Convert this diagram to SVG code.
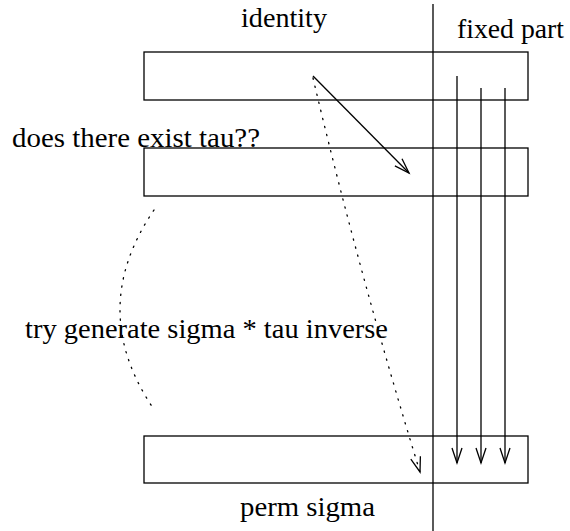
<svg xmlns="http://www.w3.org/2000/svg" width="570" height="531" viewBox="0 0 570 531">
<style>
text{font-family:"Liberation Serif","Times New Roman",serif;font-size:27px;fill:#000}
.box{fill:none;stroke:#000;stroke-width:1.3}
.ln{fill:none;stroke:#000;stroke-width:1.3}
.dot{fill:none;stroke:#000;stroke-width:1.3;stroke-dasharray:1.3 7;stroke-linecap:round}
</style>
<defs>
<marker id="ah" viewBox="0 0 20 12" refX="17" refY="6" markerWidth="20" markerHeight="12" markerUnits="userSpaceOnUse" orient="auto">
<path d="M2,1 L17,6 L2,11" fill="none" stroke="#000" stroke-width="1.3"/>
</marker>
</defs>
<g id="identity-row"><rect class="box" x="144" y="52" width="384" height="48"/><text x="241" y="27" textLength="86" lengthAdjust="spacingAndGlyphs">identity</text></g>
<g id="tau-row"><rect class="box" x="144" y="148" width="384" height="48"/><text x="12" y="147" textLength="248" lengthAdjust="spacingAndGlyphs">does there exist tau??</text></g>
<g id="sigma-row"><rect class="box" x="144" y="436" width="384" height="47"/><text x="240" y="516" textLength="135" lengthAdjust="spacingAndGlyphs">perm sigma</text></g>
<g id="fixed-part"><text x="457" y="38" textLength="107" lengthAdjust="spacingAndGlyphs">fixed part</text></g>
<g id="generate-label"><text x="25" y="338" textLength="363" lengthAdjust="spacingAndGlyphs">try generate sigma * tau inverse</text></g>
<g id="connectors">
<line class="ln" x1="433" y1="4" x2="433" y2="531"/>
<line class="ln" x1="457" y1="76" x2="457" y2="463" marker-end="url(#ah)"/>
<line class="ln" x1="481" y1="88" x2="481" y2="463" marker-end="url(#ah)"/>
<line class="ln" x1="505" y1="88" x2="505" y2="463" marker-end="url(#ah)"/>
<line class="ln" x1="313" y1="76" x2="409" y2="173" marker-end="url(#ah)"/>
<path class="dot" d="M313,78 Q359.5,275 420,472" marker-end="url(#ah)"/>
<path class="dot" d="M154,210 Q86.5,309 153,408"/>
</g>
</svg>
